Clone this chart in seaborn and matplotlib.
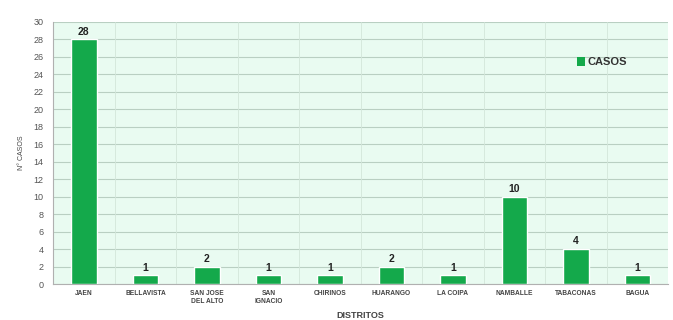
import matplotlib
matplotlib.use("Agg")
import matplotlib.pyplot as plt
import seaborn as sns
import pandas as pd
from matplotlib.patches import Patch

distritos = ["JAEN", "BELLAVISTA", "SAN JOSE\nDEL ALTO", "SAN\nIGNACIO", "CHIRINOS",
             "HUARANGO", "LA COIPA", "NAMBALLE", "TABACONAS", "BAGUA"]
casos = [28, 1, 2, 1, 1, 2, 1, 10, 4, 1]
y_ticks = list(range(0, 31, 2))

df = pd.DataFrame({"distrito": distritos, "casos": casos})

sns.set_style("white")
plt.rcParams["font.family"] = ["Liberation Sans", "DejaVu Sans"]

fig = plt.figure(figsize=(6.73, 3.2), dpi=100)
ax = fig.add_axes([0.079, 0.1125, 0.914, 0.819])
ax.set_facecolor("#e9fbf1")

bar_color = "#14a94b"
sns.barplot(data=df, x="distrito", y="casos", color=bar_color, width=0.42,
            saturation=1, ax=ax, zorder=3)

ax.set_ylim(0, 30)
ax.set_yticks(y_ticks)
ax.set_xlim(-0.5, len(distritos) - 0.5)
ax.yaxis.grid(True, color="#b9cfc2", linewidth=0.8, zorder=0)
ax.set_axisbelow(True)
# faint separators between categories
for i in range(len(distritos) - 1):
    ax.axvline(i + 0.5, color="#d3e6da", linewidth=0.6, zorder=1)

for s in ["top", "right"]:
    ax.spines[s].set_visible(False)
ax.spines["left"].set_color("#b0b0b0")
ax.spines["bottom"].set_color("#b0b0b0")

ax.tick_params(axis="y", labelsize=6.5, colors="#555555", length=2, pad=5)
ax.tick_params(axis="x", labelsize=4.8, colors="#444444", length=0, pad=4)
for lbl in ax.get_xticklabels():
    lbl.set_fontweight("bold")

for i, v in enumerate(casos):
    ax.text(i, v + 0.3, str(v), ha="center", va="bottom", fontsize=7.5,
            fontweight="bold", color="#222222")

ax.set_ylabel("N° CASOS", fontsize=5, color="#444444", labelpad=6)
ax.set_xlabel("DISTRITOS", fontsize=6.5, fontweight="bold", color="#444444", labelpad=5)

handle = Patch(facecolor=bar_color, edgecolor="none")
ax.legend([handle], ["CASOS"], loc="upper left", bbox_to_anchor=(0.835, 0.905),
          frameon=False, handlelength=0.7, handleheight=0.9, handletextpad=0.3,
          prop={"size": 8, "weight": "bold"}, labelcolor="#333333")

fig.savefig("out.png", dpi=100)
